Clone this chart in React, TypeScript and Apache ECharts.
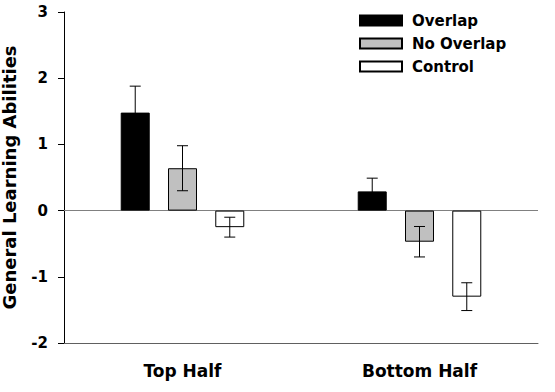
import React, { useEffect, useRef } from "react";
import * as echarts from "echarts";

const categories = ["Top Half", "Bottom Half"];
const seriesNames = ["Overlap", "No Overlap", "Control"];
const overlapValues = [1.48, 0.29];
const noOverlapValues = [0.64, -0.47];
const controlValues = [-0.25, -1.3];
const overlapErrors = [0.4, 0.2];
const noOverlapErrors = [0.34, 0.23];
const controlErrors = [0.15, 0.21];
const yTicks = { min: -2, max: 3, interval: 1 };

const FONT = "DejaVu Sans";
const BAR_WIDTH = 29;
const BAR_GAP = 0.63;
const fills = ["#000000", "#c0c0c0", "#ffffff"];

export default function App() {
  const ref = useRef<HTMLDivElement>(null);

  useEffect(() => {
    if (!ref.current) return;
    const chart = echarts.init(ref.current, null, { renderer: "svg" });

    const values = [overlapValues, noOverlapValues, controlValues];
    const errors = [overlapErrors, noOverlapErrors, controlErrors];
    const step = BAR_WIDTH * (1 + BAR_GAP);

    const barSeries = seriesNames.map((name, i) => ({
      name,
      type: "bar",
      data: values[i],
      barWidth: BAR_WIDTH,
      barGap: `${BAR_GAP * 100}%`,
      itemStyle: { color: fills[i], borderColor: "#000", borderWidth: 1 },
      z: 2,
      ...(i === 0
        ? {
            markLine: {
              silent: true,
              symbol: ["none", "none"],
              label: { show: false },
              lineStyle: { color: "#808080", type: "solid", width: 1 },
              data: [{ yAxis: 0 }],
              z: 1,
            },
          }
        : {}),
    }));

    const errorSeries = seriesNames.map((name, i) => ({
      name: name + " error",
      type: "custom",
      z: 5,
      data: categories.map((_, k) => [k, values[i][k], errors[i][k]]),
      encode: { x: 0, y: 1 },
      renderItem: (params: any, api: any) => {
        const k = api.value(0);
        const v = api.value(1);
        const e = api.value(2);
        const hi = api.coord([k, v + e]);
        const lo = api.coord([k, v - e]);
        const x = hi[0] + (i - 1) * step;
        const cap = 5.5;
        const style = { stroke: "#000", lineWidth: 1 };
        return {
          type: "group",
          children: [
            { type: "line", shape: { x1: x, y1: hi[1], x2: x, y2: lo[1] }, style },
            { type: "line", shape: { x1: x - cap, y1: hi[1], x2: x + cap, y2: hi[1] }, style },
            { type: "line", shape: { x1: x - cap, y1: lo[1], x2: x + cap, y2: lo[1] }, style },
          ],
        };
      },
    }));

    chart.setOption({
      animation: false,
      backgroundColor: "#ffffff",
      grid: { left: 64, right: 17, top: 12, bottom: 49, containLabel: false, outerBoundsMode: "none" },
      legend: {
        data: seriesNames,
        orient: "vertical",
        left: 359,
        top: 13,
        padding: 0,
        itemWidth: 42,
        itemHeight: 10,
        itemGap: 8,
        icon: "rect",
        textStyle: {
          fontFamily: FONT,
          fontWeight: "bold",
          fontSize: 15,
          color: "#000",
          lineHeight: 15,
          padding: [0, 0, 0, 5],
        },
      },
      xAxis: {
        type: "category",
        data: categories,
        axisLine: { onZero: false, lineStyle: { color: "#606060", width: 1 } },
        axisTick: { alignWithLabel: true, length: 4, lineStyle: { color: "#000" } },
        axisLabel: {
          fontFamily: FONT,
          fontWeight: "bold",
          fontSize: 17,
          color: "#000",
          margin: 19,
        },
        splitLine: { show: false },
      },
      yAxis: {
        type: "value",
        min: yTicks.min,
        max: yTicks.max,
        interval: yTicks.interval,
        name: "General Learning Abilities",
        nameLocation: "middle",
        nameGap: 46,
        nameTextStyle: {
          fontFamily: FONT,
          fontWeight: "bold",
          fontSize: 18,
          color: "#000",
        },
        axisLine: { show: true, lineStyle: { color: "#000", width: 1 } },
        axisTick: { show: true, length: 6, lineStyle: { color: "#000" } },
        axisLabel: {
          fontFamily: FONT,
          fontWeight: "bold",
          fontSize: 15,
          color: "#000",
          margin: 16,
        },
        splitLine: { show: false },
      },
      series: [...barSeries, ...errorSeries],
    });

    return () => chart.dispose();
  }, []);

  return (
    <div
      ref={ref}
      style={{ position: "fixed", left: 0, top: 0, width: 555, height: 392 }}
    />
  );
}
